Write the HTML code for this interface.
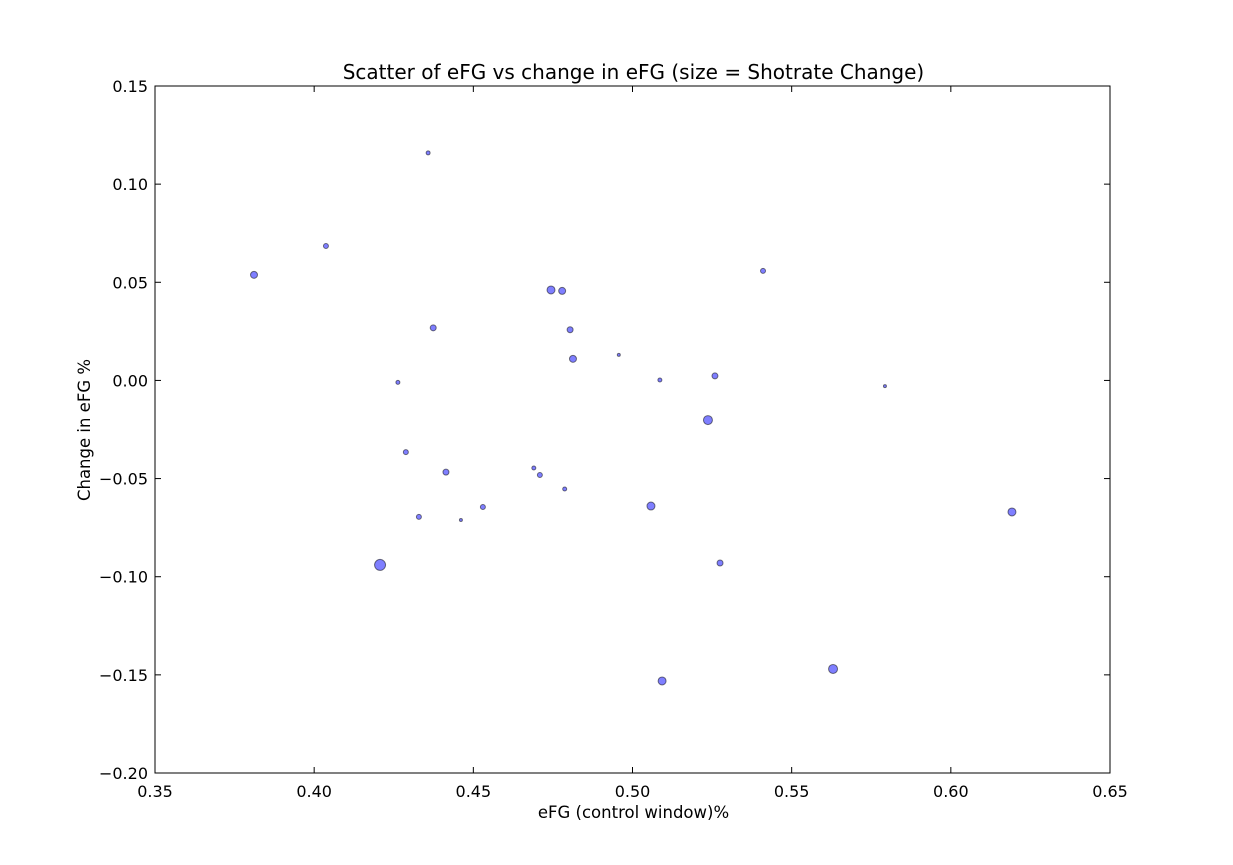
<!DOCTYPE html>
<html><head><meta charset="utf-8"><style>
body{margin:0;background:#fff;width:1233px;height:860px;overflow:hidden}
svg text{font-family:"DejaVu Sans","Liberation Sans",sans-serif;fill:#000}
</style></head><body>
<svg id="chart" width="1233" height="860" xmlns="http://www.w3.org/2000/svg"></svg>
<script>
const xValues=[0.4358,0.4037,0.3811,0.4744,0.4779,0.5410,0.4374,0.4804,0.4813,0.4957,0.4263,0.5086,0.5259,0.5793,0.5237,0.4288,0.4414,0.4690,0.4709,0.4787,0.4530,0.4329,0.4461,0.5058,0.6192,0.4207,0.5275,0.5630,0.5093];
const yValues=[0.1159,0.0685,0.0538,0.0461,0.0456,0.0558,0.0268,0.0258,0.0110,0.0130,-0.0010,0.0002,0.0023,-0.0029,-0.0202,-0.0365,-0.0467,-0.0446,-0.0482,-0.0553,-0.0645,-0.0695,-0.0711,-0.0640,-0.0670,-0.0940,-0.0930,-0.1470,-0.1531];
const sizeValues=[2,2.5,3.5,4,3.5,2.5,3,3,3.5,1.5,2,2,3,1.5,4.5,2.5,3,2,2.5,2,2.5,2.5,1.5,4,4,5.5,3,4.5,4];
const xTicks=[0.35,0.40,0.45,0.50,0.55,0.60,0.65];
const yTicks=[0.15,0.10,0.05,0.00,-0.05,-0.10,-0.15,-0.20];
const NS="http://www.w3.org/2000/svg";
const svg=document.getElementById('chart');
const L=155,R=1110,T=86,B=773;
const sx=v=>L+(v-0.35)/0.30*(R-L);
const sy=v=>B-(v+0.20)/0.35*(B-T);
function mk(t,a){const e=document.createElementNS(NS,t);for(const k in a)e.setAttribute(k,a[k]);svg.appendChild(e);return e;}
const fmt=v=>(v<0?'\u2212':'')+Math.abs(v).toFixed(2);
xTicks.forEach((v,i)=>{
 const x=sx(v);
 const t1=mk('line',{x1:x,x2:x,y1:B,y2:B-6,stroke:'#000'});
 
 
 mk('line',{x1:x,x2:x,y1:T,y2:T+6,stroke:'#000'});
 const tx=mk('text',{x:x,y:B+24,'text-anchor':'middle','font-size':16});
 tx.textContent=v.toFixed(2);
 
 
});
yTicks.forEach(v=>{
 const y=sy(v);
 const t1=mk('line',{x1:L,x2:L+6,y1:y,y2:y,stroke:'#000'});
 
 
 mk('line',{x1:R,x2:R-6,y1:y,y2:y,stroke:'#000'});
 const tx=mk('text',{x:L-7,y:y+6,'text-anchor':'end','font-size':16});
 tx.textContent=fmt(v);
 
 
});
xValues.forEach((v,i)=>{
 const c=mk('circle',{cx:sx(v),cy:sy(yValues[i]),r:sizeValues[i],fill:'rgba(0,0,255,0.5)',stroke:'rgba(0,0,0,0.5)','stroke-width':1});
 
 
});
const fr=mk('rect',{x:L,y:T,width:R-L,height:B-T,fill:'none',stroke:'#000','stroke-width':1});


const ti=mk('text',{x:(L+R)/2+1,y:79,'text-anchor':'middle','font-size':20});
ti.textContent='Scatter of eFG vs change in eFG (size = Shotrate Change)';


const xl=mk('text',{x:(L+R)/2+1,y:818,'text-anchor':'middle','font-size':16.5});
xl.textContent='eFG (control window)%';


const yl=mk('text',{x:0,y:0,'text-anchor':'middle','font-size':16.5,transform:'translate(90,430) rotate(-90)'});
yl.textContent='Change in eFG %';


</script>
</body></html>
